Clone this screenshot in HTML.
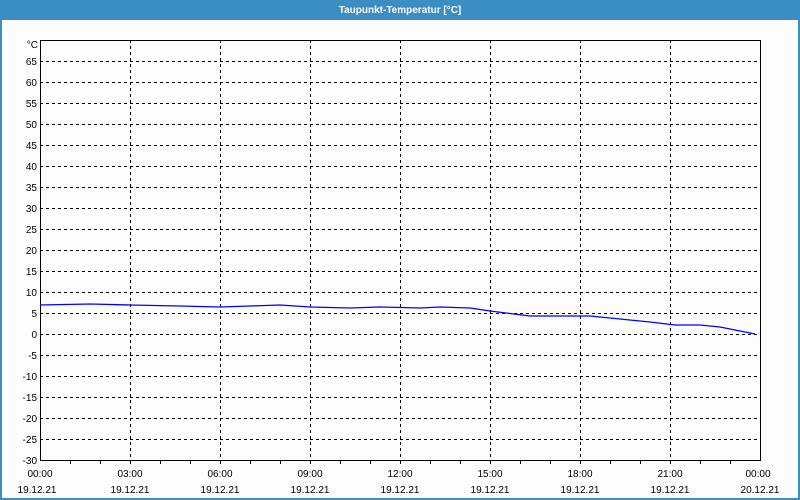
<!DOCTYPE html>
<html><head><meta charset="utf-8"><style>
html,body{margin:0;padding:0;background:#fff}
svg{display:block}
text{font-family:"Liberation Sans",sans-serif;font-size:10px;fill:#000}
</style></head><body>
<svg width="800" height="500" xmlns="http://www.w3.org/2000/svg">
<rect x="0" y="0" width="800" height="500" fill="#3a8ec4"/>
<rect x="2" y="20" width="796" height="478" fill="#fcfdfc"/>
<text x="400" y="13" text-anchor="middle" style="fill:#fff;font-weight:bold;font-size:10px">Taupunkt-Temperatur [°C]</text>
<g stroke="#000" stroke-width="1" stroke-dasharray="3,3" shape-rendering="crispEdges">
<line x1="40" x2="760" y1="61.5" y2="61.5"/><line x1="40" x2="760" y1="82.5" y2="82.5"/><line x1="40" x2="760" y1="103.5" y2="103.5"/><line x1="40" x2="760" y1="124.5" y2="124.5"/><line x1="40" x2="760" y1="145.5" y2="145.5"/><line x1="40" x2="760" y1="166.5" y2="166.5"/><line x1="40" x2="760" y1="187.5" y2="187.5"/><line x1="40" x2="760" y1="208.5" y2="208.5"/><line x1="40" x2="760" y1="229.5" y2="229.5"/><line x1="40" x2="760" y1="250.5" y2="250.5"/><line x1="40" x2="760" y1="271.5" y2="271.5"/><line x1="40" x2="760" y1="292.5" y2="292.5"/><line x1="40" x2="760" y1="313.5" y2="313.5"/><line x1="40" x2="760" y1="334.5" y2="334.5"/><line x1="40" x2="760" y1="355.5" y2="355.5"/><line x1="40" x2="760" y1="376.5" y2="376.5"/><line x1="40" x2="760" y1="397.5" y2="397.5"/><line x1="40" x2="760" y1="418.5" y2="418.5"/><line x1="40" x2="760" y1="439.5" y2="439.5"/>
<line x1="130.5" x2="130.5" y1="40" y2="460"/><line x1="220.5" x2="220.5" y1="40" y2="460"/><line x1="310.5" x2="310.5" y1="40" y2="460"/><line x1="400.5" x2="400.5" y1="40" y2="460"/><line x1="490.5" x2="490.5" y1="40" y2="460"/><line x1="580.5" x2="580.5" y1="40" y2="460"/><line x1="670.5" x2="670.5" y1="40" y2="460"/>
</g>
<rect x="40.5" y="40.5" width="720" height="420" fill="none" stroke="#000" shape-rendering="crispEdges"/>
<g stroke="#000" shape-rendering="crispEdges" id="ticks"></g>
<polyline fill="none" stroke="#0000ff" stroke-width="1.3" points="40,305 90,304 130,305 180,306 220,307 250,306 280,305 310,307 350,308 380,307 420,308 440,307 470,308 490,311 530,316 570,316 590,316 620,319 650,322 675,325 700,325 720,327 740,331 755,334"/>
<g text-anchor="end">
<text x="38" y="48">°C</text>
<text x="37" y="65">65</text><text x="37" y="86">60</text><text x="37" y="107">55</text><text x="37" y="128">50</text><text x="37" y="149">45</text><text x="37" y="170">40</text><text x="37" y="191">35</text><text x="37" y="212">30</text><text x="37" y="233">25</text><text x="37" y="254">20</text><text x="37" y="275">15</text><text x="37" y="296">10</text><text x="37" y="317">5</text><text x="37" y="338">0</text><text x="37" y="359">-5</text><text x="37" y="380">-10</text><text x="37" y="401">-15</text><text x="37" y="422">-20</text><text x="37" y="443">-25</text><text x="37" y="464">-30</text>
</g>
<g text-anchor="middle">
<text x="40" y="477">00:00</text><text x="130" y="477">03:00</text><text x="220" y="477">06:00</text><text x="310" y="477">09:00</text><text x="400" y="477">12:00</text><text x="490" y="477">15:00</text><text x="580" y="477">18:00</text><text x="670" y="477">21:00</text><text x="758" y="477">00:00</text>
<text x="37" y="493">19.12.21</text><text x="130" y="493">19.12.21</text><text x="220" y="493">19.12.21</text><text x="310" y="493">19.12.21</text><text x="400" y="493">19.12.21</text><text x="490" y="493">19.12.21</text><text x="580" y="493">19.12.21</text><text x="670" y="493">19.12.21</text><text x="760" y="493">20.12.21</text>
</g>
<path stroke="#000" shape-rendering="crispEdges" d="M70.5 460v4M100.5 460v4M130.5 460v4M160.5 460v4M190.5 460v4M220.5 460v4M250.5 460v4M280.5 460v4M310.5 460v4M340.5 460v4M370.5 460v4M400.5 460v4M430.5 460v4M460.5 460v4M490.5 460v4M520.5 460v4M550.5 460v4M580.5 460v4M610.5 460v4M640.5 460v4M670.5 460v4M700.5 460v4M730.5 460v4"/>
</svg>
</body></html>
